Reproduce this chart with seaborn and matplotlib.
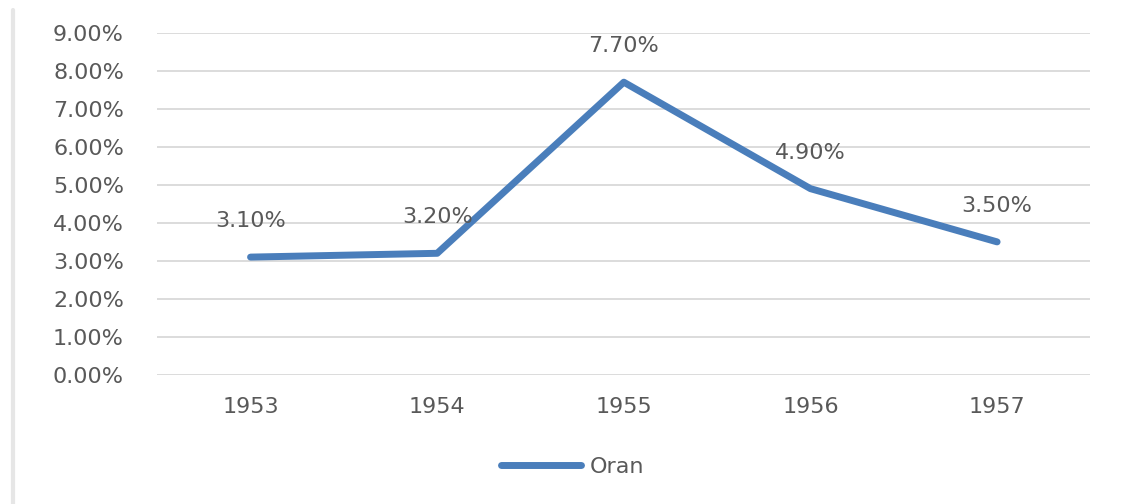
import matplotlib
matplotlib.use("Agg")
import matplotlib.pyplot as plt
import seaborn as sns
import pandas as pd
from matplotlib.ticker import FuncFormatter

# data
years = ["1953", "1954", "1955", "1956", "1957"]
oran = [3.10, 3.20, 7.70, 4.90, 3.50]
y_ticks = [0, 1, 2, 3, 4, 5, 6, 7, 8, 9]

df = pd.DataFrame({"Yil": years, "Oran": oran})

sns.set_style("white")
plt.rcParams["font.family"] = ["DejaVu Sans"]

text_color = "#595959"
line_color = "#4A7EBB"
fs = 16

fig = plt.figure(figsize=(11.23, 5.04), dpi=100)
ax = fig.add_axes([0.14, 0.256, 0.831, 0.679])

sns.lineplot(data=df, x="Yil", y="Oran", ax=ax, color=line_color,
             linewidth=5, sort=False, label="Oran")

ax.set_xlim(-0.5, len(years) - 0.5)
ax.set_ylim(0, 9)
ax.set_yticks(y_ticks)
ax.yaxis.set_major_formatter(FuncFormatter(lambda v, p: f"{v:.2f}%"))
ax.grid(axis="y", color="#D9D9D9", linewidth=1.3)
ax.set_axisbelow(True)
for s in ax.spines.values():
    s.set_visible(False)
ax.tick_params(axis="y", length=0, pad=24, labelsize=fs, labelcolor=text_color)
ax.tick_params(axis="x", length=0, pad=16, labelsize=fs, labelcolor=text_color)
ax.set_xlabel("")
ax.set_ylabel("")

# data labels above each point
for i, v in enumerate(oran):
    ax.annotate(f"{v:.2f}%", (i, v), xytext=(0, 26), textcoords="offset points",
                ha="center", va="center", fontsize=fs, color=text_color)

ax.get_legend().remove()
handles, labels = ax.get_legend_handles_labels()
fig.legend(handles, labels, loc="center", bbox_to_anchor=(0.51, 0.073),
           frameon=False, fontsize=fs, labelcolor=text_color,
           handlelength=3.6, handletextpad=0.4)

# faint left border of the original screenshot
fig.add_artist(plt.Line2D([0.012, 0.012], [0, 0.98], color="#E6E6E6",
                          linewidth=3, transform=fig.transFigure))

fig.savefig("out.png", dpi=100, facecolor="white")
